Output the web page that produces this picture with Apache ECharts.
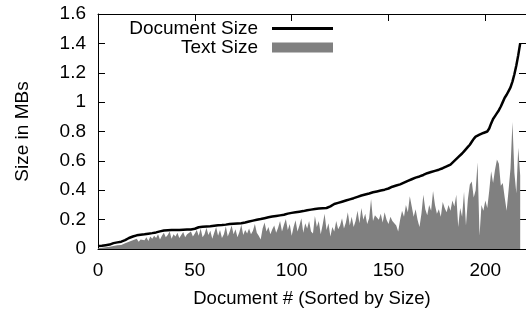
<!DOCTYPE html>
<html>
<head>
<meta charset="utf-8">
<script src="https://cdn.jsdelivr.net/npm/echarts@6/dist/echarts.min.js"></script>
<style>
  html, body { margin: 0; padding: 0; background: #fff; }
  #chart { width: 526px; height: 313px; }
</style>
</head>
<body>
<div id="chart"></div>
<script>
// document sizes (MB), sorted ascending, doc # 0..218
const docSize = [
  0.02, 0.02, 0.022, 0.024, 0.026, 0.028, 0.03, 0.035, 0.04, 0.042,
  0.045, 0.048, 0.05, 0.053, 0.06, 0.068, 0.075, 0.08, 0.085, 0.09,
  0.093, 0.095, 0.097, 0.099, 0.1, 0.102, 0.104, 0.106, 0.108, 0.11,
  0.113, 0.116, 0.12, 0.124, 0.126, 0.127, 0.128, 0.128, 0.129, 0.129,
  0.13, 0.13, 0.13, 0.131, 0.131, 0.132, 0.132, 0.132, 0.133, 0.134,
  0.138, 0.144, 0.148, 0.15, 0.151, 0.152, 0.153, 0.154, 0.155, 0.157,
  0.158, 0.16, 0.161, 0.162, 0.163, 0.164, 0.166, 0.168, 0.17, 0.171,
  0.172, 0.173, 0.174, 0.175, 0.176, 0.178, 0.181, 0.184, 0.187, 0.19,
  0.193, 0.196, 0.199, 0.202, 0.204, 0.207, 0.21, 0.213, 0.216, 0.219,
  0.221, 0.223, 0.225, 0.227, 0.229, 0.231, 0.233, 0.237, 0.241, 0.244,
  0.246, 0.248, 0.25, 0.252, 0.254, 0.256, 0.258, 0.261, 0.264, 0.266,
  0.268, 0.27, 0.272, 0.274, 0.275, 0.276, 0.277, 0.278, 0.279, 0.281,
  0.29, 0.3, 0.306, 0.31, 0.314, 0.318, 0.322, 0.326, 0.33, 0.334,
  0.338, 0.342, 0.346, 0.35, 0.355, 0.36, 0.364, 0.368, 0.371, 0.374,
  0.378, 0.382, 0.386, 0.389, 0.392, 0.395, 0.398, 0.401, 0.404, 0.407,
  0.412, 0.418, 0.424, 0.428, 0.432, 0.436, 0.44, 0.446, 0.452, 0.458,
  0.464, 0.47, 0.475, 0.48, 0.486, 0.49, 0.494, 0.498, 0.504, 0.51,
  0.516, 0.52, 0.524, 0.528, 0.532, 0.536, 0.54, 0.545, 0.55, 0.556,
  0.562, 0.568, 0.575, 0.585, 0.6, 0.612, 0.625, 0.638, 0.65, 0.665,
  0.68, 0.695, 0.71, 0.73, 0.75, 0.765, 0.772, 0.778, 0.784, 0.79,
  0.795, 0.8, 0.82, 0.855, 0.885, 0.905, 0.925, 0.945, 0.97, 1.0,
  1.03, 1.05, 1.075, 1.1, 1.14, 1.19, 1.25, 1.32, 1.4
];

// extracted text sizes (MB) for the same documents
const textSize = [
  0.005, 0.006, 0.008, 0.01, 0.012, 0.014, 0.015, 0.018, 0.02, 0.022,
  0.025, 0.03, 0.028, 0.035, 0.04, 0.038, 0.05, 0.045, 0.06, 0.055,
  0.07, 0.05, 0.065, 0.075, 0.06, 0.08, 0.055, 0.085, 0.07, 0.09,
  0.075, 0.1, 0.065, 0.09, 0.11, 0.08, 0.095, 0.12, 0.07, 0.1,
  0.085, 0.11, 0.075, 0.095, 0.115, 0.08, 0.1, 0.09, 0.12, 0.085,
  0.105, 0.13, 0.09, 0.14, 0.08, 0.1, 0.145, 0.095, 0.125, 0.07,
  0.11, 0.15, 0.09, 0.13, 0.075, 0.1, 0.155, 0.085, 0.12, 0.16,
  0.1, 0.135, 0.08, 0.115, 0.165, 0.095, 0.13, 0.105, 0.14, 0.1,
  0.125, 0.17, 0.11, 0.09, 0.065, 0.14, 0.18, 0.12, 0.15, 0.1,
  0.135, 0.16, 0.11, 0.145, 0.19, 0.12, 0.165, 0.205, 0.13, 0.17,
  0.09, 0.15, 0.195, 0.12, 0.16, 0.21, 0.11, 0.175, 0.14, 0.19,
  0.12, 0.105, 0.225, 0.15, 0.19, 0.1, 0.165, 0.24, 0.13, 0.175,
  0.085, 0.15, 0.12, 0.19, 0.135, 0.16, 0.21, 0.14, 0.18, 0.25,
  0.16, 0.22, 0.15, 0.19, 0.26, 0.175, 0.28, 0.2, 0.24, 0.17,
  0.21, 0.34, 0.19, 0.23, 0.215, 0.2, 0.24, 0.18, 0.25, 0.2,
  0.17, 0.22, 0.19, 0.2, 0.16, 0.12, 0.2, 0.26, 0.22, 0.3,
  0.25, 0.36, 0.29, 0.22, 0.27, 0.2, 0.15, 0.24, 0.37, 0.27,
  0.23, 0.3, 0.26, 0.395, 0.3, 0.24, 0.27, 0.22, 0.32, 0.28,
  0.25, 0.3, 0.26, 0.33, 0.29, 0.37, 0.15, 0.28, 0.22, 0.39,
  0.16, 0.34, 0.44, 0.46, 0.35, 0.4, 0.59, 0.09, 0.3, 0.26,
  0.33, 0.28, 0.395, 0.53, 0.45, 0.54, 0.61, 0.58, 0.43, 0.45,
  0.35, 0.26, 0.4, 0.55, 0.865, 0.52, 0.38, 0.69, 0.5
];

const xTicks = [0, 50, 100, 150, 200];

const chart = echarts.init(document.getElementById('chart'), null, { renderer: 'canvas' });

const font = 'Liberation Sans, Arial, Helvetica, sans-serif';
const black = '#000';
const fs = 19;

// gnuplot look: ticks point inwards and are mirrored on the opposite side
const baseX = {
  type: 'value', min: 0, max: 221, interval: 50,
  axisLine: { show: true, onZero: false, lineStyle: { color: black, width: 1 } },
  axisTick: { show: true, inside: true, length: 7, lineStyle: { color: black } },
  splitLine: { show: false }
};
const baseY = {
  type: 'value', min: 0, max: 1.6, interval: 0.2,
  axisLine: { show: true, onZero: false, lineStyle: { color: black, width: 1 } },
  axisTick: { show: true, inside: true, length: 7, lineStyle: { color: black } },
  splitLine: { show: false }
};

chart.setOption({
  animation: false,
  backgroundColor: '#fff',
  textStyle: { fontFamily: font },
  grid: { left: 98, right: -4, top: 14, bottom: 61 },
  legend: [
    {
      data: [{ name: 'Document Size', icon: 'rect', itemStyle: { color: black } }],
      align: 'right', right: 188, top: 14,
      itemWidth: 61, itemHeight: 3,
      textStyle: { fontFamily: font, fontSize: fs, color: black, padding: [0, 9, 0, 0] }
    },
    {
      data: [{ name: 'Text Size', icon: 'rect', itemStyle: { color: '#808080' } }],
      align: 'right', right: 188, top: 33,
      itemWidth: 61, itemHeight: 10,
      textStyle: { fontFamily: font, fontSize: fs, color: black, padding: [0, 9, 0, 0] }
    }
  ],
  xAxis: [
    Object.assign({}, baseX, {
      position: 'bottom',
      name: 'Document # (Sorted by Size)',
      nameLocation: 'middle', nameGap: 40,
      nameTextStyle: { fontFamily: font, fontSize: 18.5, color: black },
      axisLabel: {
        fontFamily: font, fontSize: fs, color: black, margin: 12,
        showMaxLabel: false,
        formatter: v => (xTicks.indexOf(v) >= 0 ? String(v) : '')
      }
    }),
    Object.assign({}, baseX, { position: 'top', axisLabel: { show: false } })
  ],
  yAxis: [
    Object.assign({}, baseY, {
      position: 'left',
      name: 'Size in MBs',
      nameLocation: 'middle', nameGap: 66,
      nameTextStyle: { fontFamily: font, fontSize: fs, color: black },
      axisLabel: { fontFamily: font, fontSize: fs, color: black, margin: 12 }
    }),
    Object.assign({}, baseY, { position: 'right', axisLabel: { show: false } })
  ],
  series: [
    {
      name: 'Text Size',
      type: 'line',
      data: textSize.map((v, i) => [i, v]),
      showSymbol: false,
      lineStyle: { width: 0 },
      itemStyle: { color: '#808080' },
      areaStyle: { color: '#808080', opacity: 1 },
      z: 2
    },
    {
      name: 'Document Size',
      type: 'line',
      data: docSize.map((v, i) => [i, v]),
      showSymbol: false,
      lineStyle: { color: black, width: 2.5 },
      itemStyle: { color: black },
      z: 3
    }
  ]
});
</script>
</body>
</html>
